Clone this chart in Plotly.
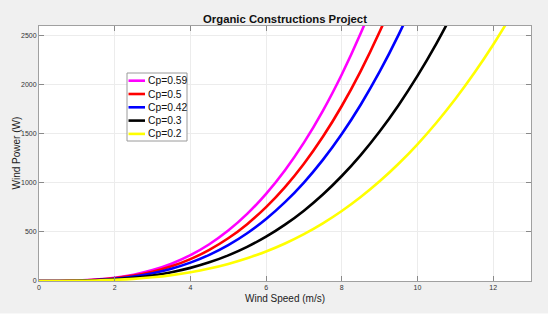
import plotly.graph_objects as go

# Wind speed samples (m/s)
wind_speed = [0, 0.5, 1, 1.5, 2, 2.5, 3, 3.5, 4, 4.5, 5, 5.5, 6, 6.5, 7, 7.5,
              8, 8.5, 9, 9.5, 10, 10.5, 11, 11.5, 12, 12.5]

# Wind power (W) for each Cp
p_cp059 = [0, 0.5, 4.1, 13.9, 32.9, 64.3, 111.0, 176.3, 263.2, 374.7, 514.0, 684.1,
           888.2, 1129.3, 1410.4, 1734.8, 2105.3, 2525.3, 2997.6]
p_cp050 = [0, 0.4, 3.5, 11.8, 27.9, 54.5, 94.1, 149.4, 223.0, 317.6, 435.6, 579.8,
           752.8, 957.1, 1195.4, 1470.2, 1784.3, 2140.2, 2540.6, 2987.9]
p_cp042 = [0, 0.4, 2.9, 9.9, 23.4, 45.7, 79.0, 125.5, 187.3, 266.7, 365.9, 487.0,
           632.2, 803.8, 1004.0, 1234.8, 1498.6, 1797.5, 2133.8, 2509.5, 2927.0]
p_cp030 = [0, 0.3, 2.1, 7.1, 16.7, 32.7, 56.5, 89.7, 133.8, 190.5, 261.4, 347.9,
           451.7, 574.2, 717.2, 882.1, 1070.6, 1284.1, 1524.3, 1792.8, 2091.0,
           2420.6, 2783.1]
p_cp020 = [0, 0.2, 1.4, 4.7, 11.2, 21.8, 37.6, 59.8, 89.2, 127.0, 174.3, 231.9,
           301.1, 382.8, 478.1, 588.1, 713.7, 856.1, 1016.2, 1195.2, 1394.0,
           1613.7, 1855.4, 2120.1, 2408.8, 2722.7]

series_names = ["Cp=0.59", "Cp=0.5", "Cp=0.42", "Cp=0.3", "Cp=0.2"]
series_values = [p_cp059, p_cp050, p_cp042, p_cp030, p_cp020]
series_colors = ["#ff00ff", "#ff0000", "#0000ff", "#000000", "#ffff00"]

x_ticks = [0, 2, 4, 6, 8, 10, 12]
y_ticks = [0, 500, 1000, 1500, 2000, 2500]

title_text = "Organic Constructions Project"
x_title = "Wind Speed (m/s)"
y_title = "Wind Power (W)"

# Figure geometry (pixels)
W, H = 550, 320
L, R, T, B = 39, 19, 26, 39
PW, PH = W - L - R, H - T - B


def px_x(px):
    return (px - L) / PW


def px_y(py):
    return (H - B - py) / PH


fig = go.Figure()
for name, vals, col in zip(series_names, series_values, series_colors):
    fig.add_trace(go.Scatter(
        x=wind_speed[:len(vals)], y=vals, name=name, mode="lines",
        line=dict(color=col, width=2.6, shape="spline"), showlegend=False,
    ))

FONT = "Liberation Sans, Arial, sans-serif"
axis_common = dict(
    showline=True, linecolor="#a0a0a0", linewidth=1, mirror="ticks",
    ticks="inside", ticklen=5, tickcolor="#8a8a8a", tickwidth=1,
    showgrid=True, gridcolor="#ececec", gridwidth=1, zeroline=False,
    tickfont=dict(family=FONT, size=7, color="#333333"), automargin=False,
)

# White strips outside the grey figure panel (right and bottom edges)
shapes = [
    dict(type="rect", xref="paper", yref="paper", x0=px_x(548), x1=px_x(W + 5),
         y0=px_y(H + 5), y1=px_y(-5), fillcolor="white", line=dict(width=0), layer="below"),
    dict(type="rect", xref="paper", yref="paper", x0=px_x(-5), x1=px_x(W + 5),
         y0=px_y(H + 5), y1=px_y(313.5), fillcolor="white", line=dict(width=0), layer="below"),
]
annotations = [
    dict(xref="paper", yref="paper", x=px_x(285), y=px_y(298), text=x_title,
         showarrow=False, xanchor="center", yanchor="middle",
         font=dict(family=FONT, size=10, color="#222222")),
    dict(xref="paper", yref="paper", x=px_x(16), y=px_y(153.5), text=y_title, textangle=-90,
         showarrow=False, xanchor="center", yanchor="middle",
         font=dict(family=FONT, size=10, color="#222222")),
]
# Compact MATLAB-style legend box
lg_x0, lg_x1, lg_y0 = 127, 187, 73
row_h = 13.3
shapes.append(dict(type="rect", xref="paper", yref="paper",
                   x0=px_x(lg_x0), x1=px_x(lg_x1), y0=px_y(lg_y0 + 5 * row_h + 1.5), y1=px_y(lg_y0),
                   fillcolor="white", line=dict(color="#9a9a9a", width=1), layer="above"))
for i, (name, col) in enumerate(zip(series_names, series_colors)):
    cy = lg_y0 + 7.7 + i * row_h
    shapes.append(dict(type="line", xref="paper", yref="paper",
                       x0=px_x(128.5), x1=px_x(145), y0=px_y(cy), y1=px_y(cy),
                       line=dict(color=col, width=2.6), layer="above"))
    annotations.append(dict(xref="paper", yref="paper", x=px_x(146), y=px_y(cy),
                            text=name, showarrow=False, xanchor="left", yanchor="middle",
                            font=dict(family=FONT, size=10.3, color="#111111")))

fig.update_layout(
    width=W, height=H,
    margin=dict(l=L, r=R, t=T, b=B),
    paper_bgcolor="#f0f0f0", plot_bgcolor="white",
    title=dict(text="<b>" + title_text + "</b>",
               font=dict(family=FONT, size=11.3, color="#111111"),
               x=(L + W - R) / 2 / W, xanchor="center", y=1 - 19 / H, yanchor="middle"),
    xaxis=dict(range=[0, 13], tickvals=x_ticks, **axis_common),
    yaxis=dict(range=[0, 2600], tickvals=y_ticks, **axis_common),
    showlegend=False,
    shapes=shapes,
    annotations=annotations,
)

fig.write_html("out.html", config={"displayModeBar": False},
               post_script="document.body.style.margin='0';")
